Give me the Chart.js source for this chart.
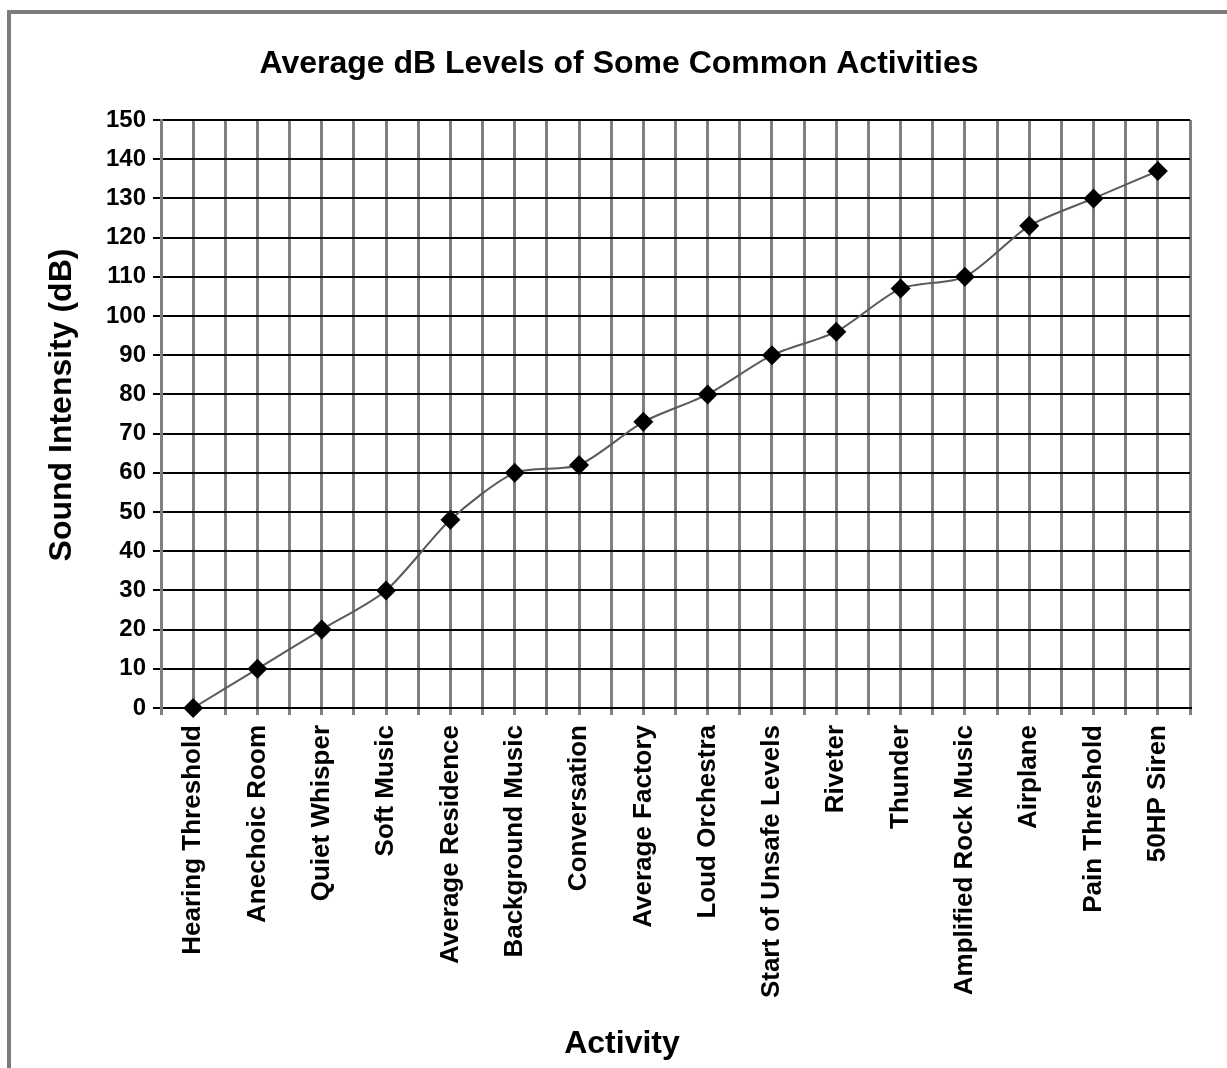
<!DOCTYPE html>
<html>
<head>
<meta charset="utf-8">
<title>Average dB Levels of Some Common Activities</title>
<script src="https://cdn.jsdelivr.net/npm/chart.js@4.4.0/dist/chart.umd.js"></script>
<style>
    html, body {
        margin: 0;
        padding: 0;
        background: #ffffff;
    }

    .frame {
        position: absolute;
        left: 7px;
        top: 10px;
        width: 1220px;
        height: 1058px;
        border-top: 4px solid #7c7c7c;
        border-left: 4px solid #7c7c7c;
        box-sizing: border-box;
    }

    .chart-box {
        position: absolute;
        left: 0;
        top: 0;
        width: 1227px;
        height: 1068px;
    }
</style>
</head>
<body>
<div class="frame"></div>
<div class="chart-box">
    <canvas id="db-chart"></canvas>
</div>

<script>
// Data
const activities = [
    'Hearing Threshold', 'Anechoic Room', 'Quiet Whisper', 'Soft Music',
    'Average Residence', 'Background Music', 'Conversation', 'Average Factory',
    'Loud Orchestra', 'Start of Unsafe Levels', 'Riveter', 'Thunder',
    'Amplified Rock Music', 'Airplane', 'Pain Threshold', '50HP Siren'
];
const dbLevels = [0, 10, 20, 30, 48, 60, 62, 73, 80, 90, 96, 107, 110, 123, 130, 137];
const yTicks = [0, 10, 20, 30, 40, 50, 60, 70, 80, 90, 100, 110, 120, 130, 140, 150];

const chartTitle = 'Average dB Levels of Some Common Activities';
const yTitle = 'Sound Intensity (dB)';
const xTitle = 'Activity';

const FONT = 'Arial, "Liberation Sans", Helvetica, sans-serif';

// Titles are placed by hand so they sit where the original has them
const titlesPlugin = {
    id: 'titles',
    afterDraw(chart) {
        const ctx = chart.ctx;
        ctx.save();
        ctx.fillStyle = '#000';
        ctx.textAlign = 'center';
        ctx.textBaseline = 'middle';
        ctx.font = 'bold 32px ' + FONT;
        ctx.fillText(chartTitle, 619, 64);
        ctx.fillText(xTitle, 622, 1044);

        ctx.translate(62, 405);
        ctx.rotate(-Math.PI / 2);
        ctx.fillText(yTitle, 0, 0);
        ctx.restore();
    }
};

const points = dbLevels.map((v, i) => ({ x: i, y: v }));

const canvas = document.getElementById('db-chart');
new Chart(canvas.getContext('2d'), {
    type: 'line',
    data: {
        datasets: [{
            label: 'Sound Intensity',
            data: points,
            clip: false,
            borderColor: '#5a5a5a',
            borderWidth: 2,
            tension: 0.25,
            pointStyle: 'rectRot',
            pointRadius: 10,
            pointBackgroundColor: '#000',
            pointBorderColor: '#000',
            pointBorderWidth: 0
        }]
    },
    options: {
        responsive: true,
        maintainAspectRatio: false,
        animation: false,
        devicePixelRatio: 1,
        layout: {
            padding: { top: 120, right: 37, bottom: 0, left: 0 }
        },
        plugins: {
            legend: { display: false },
            title: { display: false },
            tooltip: { enabled: false }
        },
        scales: {
            x: {
                type: 'linear',
                min: -0.5,
                max: activities.length - 0.5,
                afterFit: (scale) => {
                    scale.height = 360;
                    // rotated labels would otherwise push the plot in from the right
                    scale.paddingLeft = 0;
                    scale.paddingRight = 0;
                },
                grid: {
                    color: '#7f7f7f',
                    lineWidth: 3,
                    tickLength: 7,
                    z: -2
                },
                border: { color: '#000', width: 2 },
                ticks: {
                    stepSize: 0.5,
                    maxTicksLimit: 100,
                    autoSkip: false,
                    minRotation: 90,
                    maxRotation: 90,
                    padding: 10,
                    color: '#000',
                    font: { family: FONT, size: 26, weight: 'bold' },
                    callback: (v) => Number.isInteger(v) ? activities[v] : ''
                }
            },
            y: {
                min: yTicks[0],
                max: yTicks[yTicks.length - 1],
                afterFit: (scale) => { scale.width = 161; },
                afterBuildTicks: (scale) => {
                    scale.ticks = yTicks.map(v => ({ value: v }));
                },
                grid: {
                    color: '#000',
                    lineWidth: 2,
                    tickLength: 8,
                    z: -1
                },
                border: { color: '#7f7f7f', width: 3 },
                ticks: {
                    padding: 7,
                    color: '#000',
                    font: { family: FONT, size: 24, weight: 'bold' }
                }
            }
        }
    },
    plugins: [titlesPlugin]
});
</script>
</body>
</html>
